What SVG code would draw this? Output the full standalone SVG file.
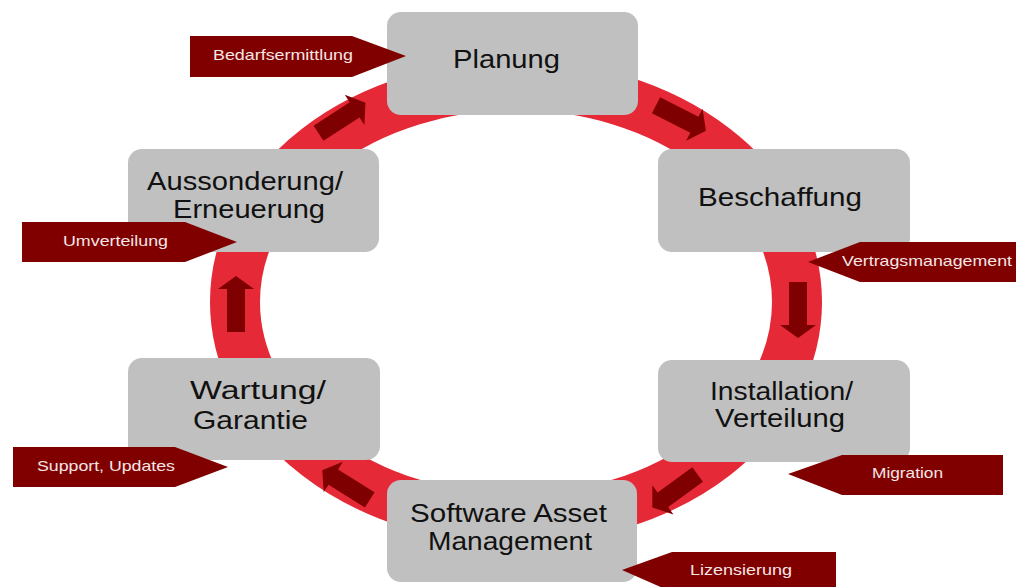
<svg xmlns="http://www.w3.org/2000/svg" width="1016" height="587" viewBox="0 0 1016 587">
<style>
.node{fill:#c0c0c0;}
.nt{font-family:"Liberation Sans",Arial,sans-serif;font-size:25px;fill:#111;}
.tag{fill:#800000;}
.tt{font-family:"Liberation Sans",Arial,sans-serif;font-size:15px;fill:#f4e6e6;}
.arr{fill:#7f0000;}
</style>
<defs>
<path id="blk" d="M-28,-9 H15 V-18 L28,0 L15,18 V9 H-28 Z"/>
</defs>
<rect width="1016" height="587" fill="#ffffff"/>
<ellipse id="ring" cx="516" cy="302" rx="281" ry="217" fill="none" stroke="#e52937" stroke-width="50"/>
<g id="connectors" class="arr">
<use href="#blk" transform="translate(681,118) rotate(27)"/>
<use href="#blk" transform="translate(798,310) rotate(90)"/>
<use href="#blk" transform="translate(675,491) rotate(144)"/>
<use href="#blk" transform="translate(346,485) rotate(212)"/>
<use href="#blk" transform="translate(236,304) rotate(270)"/>
<use href="#blk" transform="translate(342,118) rotate(-33)"/>
</g>
<g id="n-planung"><rect class="node" x="387" y="12" width="251" height="103" rx="14"/>
<text class="nt" x="453" y="68" textLength="107" lengthAdjust="spacingAndGlyphs">Planung</text></g>
<g id="n-beschaffung"><rect class="node" x="658" y="149" width="252" height="103" rx="14"/>
<text class="nt" x="698" y="206" textLength="164" lengthAdjust="spacingAndGlyphs">Beschaffung</text></g>
<g id="n-installation"><rect class="node" x="658" y="360" width="252" height="102" rx="14"/>
<text class="nt" x="710" y="400" textLength="143" lengthAdjust="spacingAndGlyphs">Installation/</text>
<text class="nt" x="715" y="427" textLength="130" lengthAdjust="spacingAndGlyphs">Verteilung</text></g>
<g id="n-sam"><rect class="node" x="387" y="480" width="250" height="102" rx="14"/>
<text class="nt" x="410" y="522" textLength="197" lengthAdjust="spacingAndGlyphs">Software Asset</text>
<text class="nt" x="428" y="550" textLength="164" lengthAdjust="spacingAndGlyphs">Management</text></g>
<g id="n-wartung"><rect class="node" x="128" y="358" width="252" height="102" rx="14"/>
<text class="nt" x="190" y="399" textLength="136" lengthAdjust="spacingAndGlyphs">Wartung/</text>
<text class="nt" x="193" y="429" textLength="115" lengthAdjust="spacingAndGlyphs">Garantie</text></g>
<g id="n-aussonderung"><rect class="node" x="128" y="149" width="251" height="103" rx="14"/>
<text class="nt" x="147" y="190" textLength="196" lengthAdjust="spacingAndGlyphs">Aussonderung/</text>
<text class="nt" x="173" y="218" textLength="152" lengthAdjust="spacingAndGlyphs">Erneuerung</text></g>
<g id="t-bedarf"><path class="tag" d="M190,36 H352 L406,56 L352,77 H190 Z"/>
<text class="tt" x="213" y="60" textLength="140" lengthAdjust="spacingAndGlyphs">Bedarfsermittlung</text></g>
<g id="t-umverteilung"><path class="tag" d="M22,222 H185 L237,242 L185,262 H22 Z"/>
<text class="tt" x="63" y="246" textLength="105" lengthAdjust="spacingAndGlyphs">Umverteilung</text></g>
<g id="t-support"><path class="tag" d="M13,447 H175 L228,467 L175,487 H13 Z"/>
<text class="tt" x="37" y="471" textLength="138" lengthAdjust="spacingAndGlyphs">Support, Updates</text></g>
<g id="t-vertrag"><path class="tag" d="M808,262 L860,242 H1020 V282 H860 Z"/>
<text class="tt" x="842" y="266" textLength="170" lengthAdjust="spacingAndGlyphs">Vertragsmanagement</text></g>
<g id="t-migration"><path class="tag" d="M788,474 L842,455 H1003 V495 H842 Z"/>
<text class="tt" x="872" y="478" textLength="71" lengthAdjust="spacingAndGlyphs">Migration</text></g>
<g id="t-lizenz"><path class="tag" d="M622,570 L672,552 H836 V592 H672 Z"/>
<text class="tt" x="690" y="575" textLength="102" lengthAdjust="spacingAndGlyphs">Lizensierung</text></g>
</svg>
